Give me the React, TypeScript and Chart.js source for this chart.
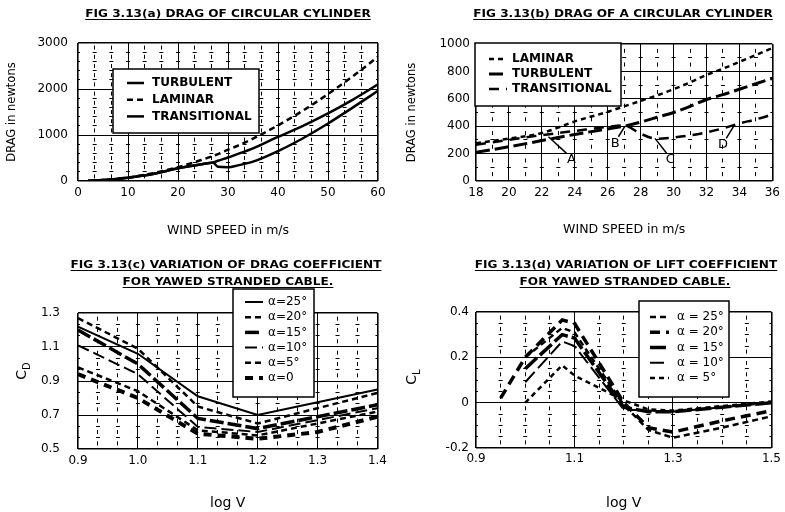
import React, { useEffect, useRef } from 'react';
import { Chart, registerables } from 'chart.js';

Chart.register(...registerables);
Chart.defaults.font.family = "'DejaVu Sans', sans-serif";
Chart.defaults.color = '#000';

// ---------------- data: panel (a) ----------------
const A_WIND = [2, 5, 10, 15, 20, 25, 27, 28, 30, 32, 35, 40, 45, 50, 55, 60];
const A_TURBULENT = [3, 20, 70, 150, 275, 370, 400, 440, 510, 590, 710, 960, 1200, 1470, 1770, 2100];
const A_LAMINAR = [3, 20, 75, 170, 300, 470, 545, 585, 680, 770, 920, 1210, 1530, 1890, 2280, 2700];
const A_TRANSITIONAL = [3, 20, 70, 150, 275, 370, 400, 310, 300, 340, 420, 650, 930, 1250, 1600, 1960];
const A_X_MAJOR = [0, 10, 20, 30, 40, 50, 60];
const A_X_LABELS = ['0', '10', '20', '30', '40', '50', '60'];
const A_Y_MAJOR = [0, 1000, 2000, 3000];
const A_Y_LABELS = ['0', '1000', '2000', '3000'];

// ---------------- data: panel (b) ----------------
const B_WIND = [18, 20, 22, 24, 26, 27, 28, 29, 30, 31, 32, 33, 34, 35, 36];
const B_LAMINAR = [275, 310, 350, 435, 505, 545, 585, 625, 670, 720, 775, 820, 870, 920, 970];
const B_TURBULENT = [210, 250, 295, 340, 380, 400, 430, 465, 500, 545, 595, 630, 670, 710, 750];
const B_TRANSITIONAL = [265, 300, 335, 365, 395, 405, 345, 308, 318, 333, 355, 385, 420, 450, 485];
const B_X_MAJOR = [18, 20, 22, 24, 26, 28, 30, 32, 34, 36];
const B_X_LABELS = ['18', '20', '22', '24', '26', '28', '30', '32', '34', '36'];
const B_Y_MAJOR = [0, 200, 400, 600, 800, 1000];
const B_Y_LABELS = ['0', '200', '400', '600', '800', '1000'];
const B_MARK_LABELS = ['A', 'B', 'C', 'D'];
const B_MARK_X = [22.4, 27.05, 28.87, 33.7];
const B_MARK_Y = [323, 401, 311, 409];
const B_LEAD_X = [23.5, 26.65, 29.58, 33.2];
const B_LEAD_Y = [202, 323, 202, 311];
const B_TEXT_X = [23.8, 26.45, 29.8, 33.0];
const B_TEXT_Y = [153, 275, 153, 263];

// ---------------- data: panel (c) ----------------
const C_LOGV = [0.9, 1.0, 1.1, 1.2, 1.3, 1.4];
const C_A25 = [1.22, 1.06, 0.81, 0.70, 0.775, 0.85];
const C_A20 = [1.27, 1.09, 0.75, 0.65, 0.74, 0.83];
const C_A15 = [1.20, 1.00, 0.68, 0.62, 0.69, 0.76];
const C_A10 = [1.11, 0.94, 0.63, 0.60, 0.67, 0.74];
const C_A5 = [0.98, 0.84, 0.61, 0.58, 0.65, 0.72];
const C_A0 = [0.94, 0.80, 0.59, 0.56, 0.60, 0.69];
const C_X_MAJOR = [0.9, 1.0, 1.1, 1.2, 1.3, 1.4];
const C_X_LABELS = ['0.9', '1.0', '1.1', '1.2', '1.3', '1.4'];
const C_Y_MAJOR = [0.5, 0.7, 0.9, 1.1, 1.3];
const C_Y_LABELS = ['0.5', '0.7', '0.9', '1.1', '1.3'];

// ---------------- data: panel (d) ----------------
const D_LOGV_LONG = [0.95, 1.0, 1.075, 1.1, 1.2, 1.25, 1.3, 1.4, 1.5];
const D_LOGV_SHORT = [1.0, 1.075, 1.1, 1.2, 1.25, 1.3, 1.4, 1.5];
const D_A25 = [0.20, 0.33, 0.31, -0.01, -0.12, -0.155, -0.11, -0.06];
const D_A20 = [0.02, 0.20, 0.365, 0.35, 0.0, -0.11, -0.13, -0.08, -0.035];
const D_A15 = [0.15, 0.30, 0.285, -0.02, -0.04, -0.04, -0.02, 0.0];
const D_A10 = [0.09, 0.27, 0.25, -0.03, -0.035, -0.04, -0.02, 0.0];
const D_A5 = [0.0, 0.165, 0.12, 0.01, -0.03, -0.035, -0.015, 0.005];
const D_X_MAJOR = [0.9, 1.1, 1.3, 1.5];
const D_X_LABELS = ['0.9', '1.1', '1.3', '1.5'];
const D_Y_MAJOR = [-0.2, 0, 0.2, 0.4];
const D_Y_LABELS = ['-0.2', '0', '0.2', '0.4'];

// ---------------- helpers ----------------
type AxisSpec = {
  major: number[];
  labels: string[];
  sub: number;
  size: number;
  tickPad: number;
  title?: string;
  titleSize?: number;
  titlePad?: number;
  dash: number;
};

function buildTicks(major: number[], sub: number): number[] {
  const out: number[] = [];
  for (let i = 0; i < major.length - 1; i++) {
    for (let k = 0; k < sub; k++) out.push(major[i] + ((major[i + 1] - major[i]) * k) / sub);
  }
  out.push(major[major.length - 1]);
  return out;
}

function near(a: number, b: number, spec: AxisSpec) {
  const range = spec.major[spec.major.length - 1] - spec.major[0];
  return Math.abs(a - b) < 1e-6 * range;
}
function majorIndex(spec: AxisSpec, v: number) {
  return spec.major.findIndex((m) => near(m, v, spec));
}

function scaleOpts(id: 'x' | 'y', spec: AxisSpec, other: AxisSpec) {
  const otherId = id === 'x' ? 'y' : 'x';
  const first = spec.major[0];
  const last = spec.major[spec.major.length - 1];
  const period = (c: any) => {
    const s = c.chart.scales[otherId];
    const step = (other.major[1] - other.major[0]) / other.sub;
    return Math.abs(s.getPixelForValue(other.major[0] + step) - s.getPixelForValue(other.major[0]));
  };
  const isMinor = (c: any) => !!c.tick && majorIndex(spec, c.tick.value) < 0;
  return {
    type: 'linear',
    position: id === 'x' ? 'bottom' : 'left',
    min: first,
    max: last,
    afterBuildTicks: (s: any) => {
      s.ticks = buildTicks(spec.major, spec.sub).map((v) => ({ value: v }));
    },
    afterFit: (s: any) => {
      if (id === 'x') s.height = spec.size;
      else s.width = spec.size;
    },
    ticks: {
      autoSkip: false,
      maxRotation: 0,
      minRotation: 0,
      maxTicksLimit: 1000,
      padding: spec.tickPad,
      color: '#000',
      font: { size: 12 },
      callback: (v: any) => {
        const i = majorIndex(spec, Number(v));
        return i < 0 ? '' : spec.labels[i];
      },
    },
    grid: {
      drawTicks: false,
      color: '#000',
      lineWidth: (c: any) => {
        if (!c.tick) return 1;
        const v = c.tick.value;
        return near(v, first, spec) || near(v, last, spec) ? 1.6 : 1;
      },
    },
    border: {
      display: false,
      dash: (c: any) => {
        if (!isMinor(c)) return [];
        const p = period(c);
        return [spec.dash, Math.max(1, p - spec.dash)];
      },
      dashOffset: (c: any) => {
        if (!isMinor(c)) return 0;
        const p = period(c);
        return id === 'y' ? spec.dash / 2 : spec.dash / 2 - p / 2;
      },
    },
    title: spec.title
      ? {
          display: true,
          text: spec.title,
          color: '#000',
          font: { size: spec.titleSize },
          padding: id === 'x' ? { top: 0, bottom: spec.titlePad } : { top: spec.titlePad, bottom: 0 },
        }
      : { display: false },
  };
}

function series(label: string, xs: number[], ys: number[], width: number, dash: number[], smooth: boolean) {
  return {
    label,
    data: xs.map((x, i) => ({ x, y: ys[i] })),
    borderColor: '#000',
    backgroundColor: '#000',
    borderWidth: width,
    borderDash: dash,
    fill: false,
    pointRadius: 0,
    tension: 0,
    cubicInterpolationMode: smooth ? 'monotone' : 'default',
  };
}

type LegendCfg = { box: number[]; y0: number; dy: number; sx: number; sl: number; tx: number; font: string };

function boxLegend(cfg: LegendCfg) {
  return {
    id: 'boxLegend',
    afterDraw(chart: any) {
      const ctx = chart.ctx;
      ctx.save();
      const [bx, by, bw, bh] = cfg.box;
      ctx.fillStyle = '#fff';
      ctx.fillRect(bx, by, bw, bh);
      ctx.setLineDash([]);
      ctx.lineWidth = 1.5;
      ctx.strokeStyle = '#000';
      ctx.strokeRect(bx, by, bw, bh);
      chart.data.datasets.forEach((ds: any, i: number) => {
        const y = cfg.y0 + i * cfg.dy;
        ctx.setLineDash(ds.borderDash || []);
        ctx.lineWidth = ds.borderWidth;
        ctx.lineCap = 'butt';
        ctx.beginPath();
        ctx.moveTo(cfg.sx, y);
        ctx.lineTo(cfg.sx + cfg.sl, y);
        ctx.stroke();
        ctx.setLineDash([]);
        ctx.fillStyle = '#000';
        ctx.font = cfg.font;
        ctx.textAlign = 'left';
        ctx.textBaseline = 'middle';
        ctx.fillText(ds.label, cfg.tx, y);
      });
      ctx.restore();
    },
  };
}

const pointLabels = {
  id: 'pointLabels',
  afterDatasetsDraw(chart: any) {
    const { ctx } = chart;
    const x = chart.scales.x;
    const y = chart.scales.y;
    ctx.save();
    ctx.strokeStyle = '#000';
    ctx.lineWidth = 1.5;
    ctx.setLineDash([]);
    B_MARK_LABELS.forEach((lab, i) => {
      ctx.beginPath();
      ctx.moveTo(x.getPixelForValue(B_LEAD_X[i]), y.getPixelForValue(B_LEAD_Y[i]));
      ctx.lineTo(x.getPixelForValue(B_MARK_X[i]), y.getPixelForValue(B_MARK_Y[i]));
      ctx.stroke();
      ctx.font = "13px 'DejaVu Sans'";
      ctx.fillStyle = '#000';
      ctx.textAlign = 'center';
      ctx.textBaseline = 'middle';
      ctx.fillText(lab, x.getPixelForValue(B_TEXT_X[i]), y.getPixelForValue(B_TEXT_Y[i]));
    });
    ctx.restore();
  },
};

function makeConfig(datasets: any[], xs: AxisSpec, ys: AxisSpec, pad: any, plugins: any[]) {
  return {
    type: 'line',
    data: { datasets },
    options: {
      responsive: false,
      maintainAspectRatio: false,
      animation: false,
      devicePixelRatio: 1,
      layout: { padding: pad },
      plugins: { legend: { display: false }, tooltip: { enabled: false }, title: { display: false } },
      elements: { point: { radius: 0 } },
      scales: { x: scaleOpts('x', xs, ys), y: scaleOpts('y', ys, xs) },
    },
    plugins,
  } as any;
}

// ---------------- chart configs ----------------
function configA() {
  const xs: AxisSpec = { major: A_X_MAJOR, labels: A_X_LABELS, sub: 3, size: 69, tickPad: 5, title: 'WIND SPEED in m/s', titleSize: 12.5, titlePad: 11.5, dash: 4 };
  const ys: AxisSpec = { major: A_Y_MAJOR, labels: A_Y_LABELS, sub: 5, size: 78, tickPad: 10, title: 'DRAG in newtons', titleSize: 11.5, titlePad: 5, dash: 4 };
  const ds = [
    series('TURBULENT', A_WIND, A_TURBULENT, 2.5, [], true),
    series('LAMINAR', A_WIND, A_LAMINAR, 2.5, [6, 4], true),
    series('TRANSITIONAL', A_WIND, A_TRANSITIONAL, 2.5, [], true),
  ];
  const legend = boxLegend({ box: [113, 69, 146, 64], y0: 83, dy: 16.7, sx: 127, sl: 17, tx: 152, font: "bold 12px 'DejaVu Sans'" });
  return makeConfig(ds, xs, ys, { left: 0, top: 43, right: 14, bottom: 0 }, [legend]);
}

function configB() {
  const xs: AxisSpec = { major: B_X_MAJOR, labels: B_X_LABELS, sub: 2, size: 69, tickPad: 5, title: 'WIND SPEED in m/s', titleSize: 12.5, titlePad: 12.5, dash: 4 };
  const ys: AxisSpec = { major: B_Y_MAJOR, labels: B_Y_LABELS, sub: 2, size: 84, tickPad: 6, title: 'DRAG in newtons', titleSize: 11.5, titlePad: 13, dash: 4 };
  const ds = [
    series('LAMINAR', B_WIND, B_LAMINAR, 2.5, [5, 4], true),
    series('TURBULENT', B_WIND, B_TURBULENT, 3, [14, 5], true),
    series('TRANSITIONAL', B_WIND, B_TRANSITIONAL, 2.5, [10, 7], true),
  ];
  const legend = boxLegend({ box: [83, 43, 146, 63], y0: 59, dy: 15, sx: 97, sl: 18, tx: 120, font: "bold 12px 'DejaVu Sans'" });
  return makeConfig(ds, xs, ys, { left: 0, top: 44, right: 12, bottom: 0 }, [pointLabels, legend]);
}

function configC() {
  const xs: AxisSpec = { major: C_X_MAJOR, labels: C_X_LABELS, sub: 3, size: 63, tickPad: 5, title: 'log V', titleSize: 14, titlePad: 0.6, dash: 4 };
  const ys: AxisSpec = { major: C_Y_MAJOR, labels: C_Y_LABELS, sub: 3, size: 78, tickPad: 18, dash: 4 };
  const ds = [
    series('\u03B1=25\u00B0', C_LOGV, C_A25, 2, [], false),
    series('\u03B1=20\u00B0', C_LOGV, C_A20, 2.5, [6, 4], false),
    series('\u03B1=15\u00B0', C_LOGV, C_A15, 3.5, [14, 4], false),
    series('\u03B1=10\u00B0', C_LOGV, C_A10, 2, [12, 5], false),
    series('\u03B1=5\u00B0', C_LOGV, C_A5, 2.5, [6, 4], false),
    series('\u03B1=0', C_LOGV, C_A0, 4, [8, 6], false),
  ];
  const legend = boxLegend({ box: [233, 39, 81, 108], y0: 52, dy: 15.2, sx: 245, sl: 18, tx: 268, font: "12px 'DejaVu Sans'" });
  return makeConfig(ds, xs, ys, { left: 0, top: 63, right: 14, bottom: 0 }, [legend]);
}

function configD() {
  const xs: AxisSpec = { major: D_X_MAJOR, labels: D_X_LABELS, sub: 4, size: 64, tickPad: 4, title: 'log V', titleSize: 14, titlePad: 0.6, dash: 4 };
  const ys: AxisSpec = { major: D_Y_MAJOR, labels: D_Y_LABELS, sub: 4, size: 84, tickPad: 7, dash: 4 };
  const ds = [
    series('\u03B1 = 25\u00B0', D_LOGV_SHORT, D_A25, 2.5, [6, 4], false),
    series('\u03B1 = 20\u00B0', D_LOGV_LONG, D_A20, 3.5, [10, 6], false),
    series('\u03B1 = 15\u00B0', D_LOGV_SHORT, D_A15, 3.5, [16, 4], false),
    series('\u03B1 = 10\u00B0', D_LOGV_SHORT, D_A10, 2, [14, 5], false),
    series('\u03B1 = 5\u00B0', D_LOGV_SHORT, D_A5, 2.5, [5, 4], false),
  ];
  const legend = boxLegend({ box: [247, 51, 90, 96], y0: 67, dy: 15.25, sx: 258, sl: 19, tx: 285, font: "12px 'DejaVu Sans'" });
  return makeConfig(ds, xs, ys, { left: 0, top: 62, right: 12, bottom: 0 }, [legend]);
}

// ---------------- components ----------------
function ChartCanvas(props: { make: () => any; left: number; top: number; width: number; height: number }) {
  const ref = useRef<HTMLCanvasElement>(null);
  useEffect(() => {
    const chart = new Chart(ref.current as HTMLCanvasElement, props.make());
    return () => chart.destroy();
  }, []);
  return (
    <canvas
      ref={ref}
      width={props.width}
      height={props.height}
      style={{ position: 'absolute', left: props.left, top: props.top, width: props.width, height: props.height }}
    />
  );
}

function Title(props: { text: string; cx: number; cy: number }) {
  return (
    <div
      style={{
        position: 'absolute',
        left: props.cx - 250,
        top: props.cy - 7,
        width: 500,
        textAlign: 'center',
        fontFamily: "'DejaVu Sans', sans-serif",
        fontWeight: 'bold',
        fontSize: 11,
        lineHeight: '14px',
        color: '#000',
        textDecoration: 'underline',
        textUnderlineOffset: '2px',
        transform: 'scaleX(1.1)',
        transformOrigin: 'center',
        whiteSpace: 'nowrap',
      }}
    >
      {props.text}
    </div>
  );
}

function SubTitle(props: { main: string; sub: string; cx: number; cy: number }) {
  return (
    <div
      style={{
        position: 'absolute',
        left: props.cx,
        top: props.cy,
        transform: 'translate(-50%, -50%) rotate(-90deg)',
        fontFamily: "'DejaVu Sans', sans-serif",
        fontSize: 14,
        lineHeight: '16px',
        color: '#000',
        whiteSpace: 'nowrap',
      }}
    >
      {props.main}
      <sub style={{ fontSize: 10, verticalAlign: 'sub' }}>{props.sub}</sub>
    </div>
  );
}

export default function App() {
  return (
    <div style={{ position: 'fixed', left: 0, top: 0, width: 785, height: 512, background: '#fff', overflow: 'hidden' }}>
      <ChartCanvas make={configA} left={0} top={0} width={392} height={250} />
      <ChartCanvas make={configB} left={392} top={0} width={393} height={250} />
      <ChartCanvas make={configC} left={0} top={250} width={392} height={262} />
      <ChartCanvas make={configD} left={392} top={250} width={393} height={262} />
      <Title text="FIG 3.13(a) DRAG OF CIRCULAR CYLINDER" cx={228} cy={14} />
      <Title text="FIG 3.13(b) DRAG OF A CIRCULAR CYLINDER" cx={623} cy={14} />
      <Title text="FIG 3.13(c) VARIATION OF DRAG COEFFICIENT" cx={226} cy={265} />
      <Title text="FOR YAWED STRANDED CABLE." cx={228} cy={282} />
      <Title text="FIG 3.13(d) VARIATION OF LIFT COEFFICIENT" cx={626} cy={265} />
      <Title text="FOR YAWED STRANDED CABLE." cx={625} cy={282} />
      <SubTitle main="C" sub="D" cx={24} cy={371} />
      <SubTitle main="C" sub="L" cx={414} cy={377} />
    </div>
  );
}
